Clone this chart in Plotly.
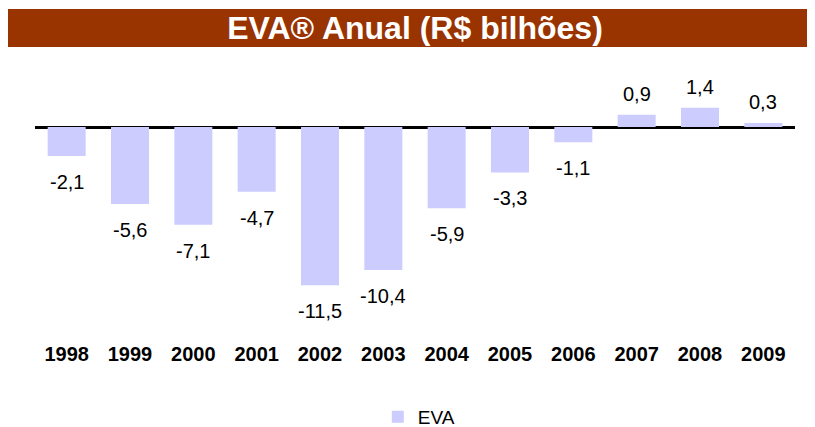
import plotly.graph_objects as go

years = ["1998", "1999", "2000", "2001", "2002", "2003", "2004", "2005", "2006", "2007", "2008", "2009"]
eva = [-2.1, -5.6, -7.1, -4.7, -11.5, -10.4, -5.9, -3.3, -1.1, 0.9, 1.4, 0.3]
labels = ["-2,1", "-5,6", "-7,1", "-4,7", "-11,5", "-10,4", "-5,9", "-3,3", "-1,1", "0,9", "1,4", "0,3"]

FONT = "Arial, Liberation Sans, sans-serif"

fig = go.Figure()
fig.add_trace(go.Bar(x=years, y=eva, name="EVA", marker=dict(color="#CCCCFF", line=dict(width=0))))

annotations = []
for i, (v, t) in enumerate(zip(eva, labels)):
    annotations.append(dict(x=i, y=v, text=t, showarrow=False, xref="x", yref="y",
                            yanchor="middle", yshift=(-26 if v < 0 else 21),
                            font=dict(family=FONT, size=20, color="black")))

# page has an 8px body margin; figure pixel = page pixel - 8
OFF = 8
W, H = 815 - OFF, 427 - OFF
L, R, T, B = 35 - OFF, W - (795 - OFF), 60 - OFF, H - (340 - OFF)
pw, ph = W - L - R, H - T - B

def px2paper_x(px):
    return (px - OFF - L) / pw

def px2paper_y(py):
    return (H - B - (py - OFF)) / ph

fig.update_layout(
    width=W, height=H,
    margin=dict(l=L, r=R, t=T, b=B, pad=0, autoexpand=False),
    paper_bgcolor="white", plot_bgcolor="white",
    bargap=0.4,
    showlegend=True,
    legend=dict(orientation="h", x=0.505, xanchor="center", y=1 - (417 - OFF) / H, yref="container",
                yanchor="middle", font=dict(family=FONT, size=19, color="black"), itemwidth=30),
    title=dict(text="<b>EVA® Anual (R$ bilhões)</b>", x=0.5, xref="paper", xanchor="center",
               y=1 - (28 - OFF) / H, yref="container", yanchor="middle",
               font=dict(family=FONT, size=32, color="white")),
    xaxis=dict(type="category", range=[-0.5, len(years) - 0.5], showgrid=False, showline=False,
               ticks="", zeroline=False,
               tickfont=dict(family=FONT, size=20, color="black", weight="bold")),
    yaxis=dict(range=[-15.49, 4.873], showgrid=False, showline=False, showticklabels=False,
               ticks="", zeroline=True, zerolinecolor="black", zerolinewidth=3),
    shapes=[dict(type="rect", xref="paper", yref="paper",
                 x0=px2paper_x(8), x1=px2paper_x(810), y0=px2paper_y(47), y1=px2paper_y(9),
                 fillcolor="#993300", line=dict(width=0), layer="below")],
    annotations=annotations,
)

fig.write_html("out.html")
